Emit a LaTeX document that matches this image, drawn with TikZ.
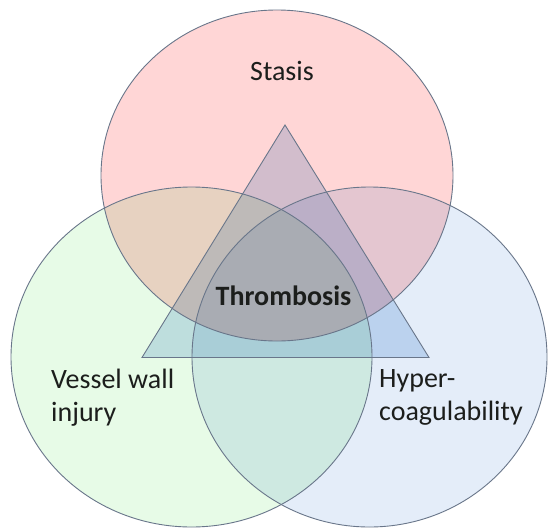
\documentclass[tikz,border=0pt]{standalone}
\usepackage{fontspec}
\setmainfont{Carlito}
\definecolor{pinkc}{RGB}{255,214,214}
\definecolor{greenc}{RGB}{231,251,231}
\definecolor{bluec}{RGB}{228,237,249}
\definecolor{tric}{RGB}{210,226,244}
\definecolor{linec}{RGB}{105,118,138}
\definecolor{txtc}{RGB}{28,30,28}
\tikzset{
  circfill/.style={blend mode=multiply},
  outline/.style={draw=linec, line width=0.9pt},
  lbl/.style={font=\fontsize{28}{33}\selectfont, text=txtc, inner sep=0pt},
}
\begin{document}
\begin{tikzpicture}[x=1pt,y=-1pt]
\useasboundingbox (0,0) rectangle (549,530);
\fill[white] (0,0) rectangle (549,530);
% fills
\fill[pinkc, circfill] (277,175.5) ellipse [x radius=176, y radius=165.5];
\fill[greenc, circfill] (191.5,357) ellipse [x radius=180.5, y radius=170];
\fill[bluec, circfill] (369.5,357) ellipse [x radius=177.5, y radius=170];
\coordinate (apex) at (285,125);
\coordinate (bl) at (142,357.5);
\coordinate (br) at (429,357.5);
\fill[tric, circfill] (apex) -- (bl) -- (br) -- cycle;
% outlines
\draw[outline] (277,175.5) ellipse [x radius=176, y radius=165.5];
\draw[outline] (191.5,357) ellipse [x radius=180.5, y radius=170];
\draw[outline] (369.5,357) ellipse [x radius=177.5, y radius=170];
\draw[outline] (apex) -- (bl) -- (br) -- cycle;
% labels
\node[lbl] (stasis) at (282,71) {Stasis};
\node[lbl, font=\fontsize{28}{33}\selectfont\bfseries] (thromb) at (283.5,296) {Thrombosis};
\node[lbl, anchor=north west, align=left] (vessel) at (51,369) {Vessel wall\\injury};
\node[lbl, anchor=north west, align=left] (hyper) at (379,369) {Hyper-\\coagulability};
\end{tikzpicture}
\end{document}
